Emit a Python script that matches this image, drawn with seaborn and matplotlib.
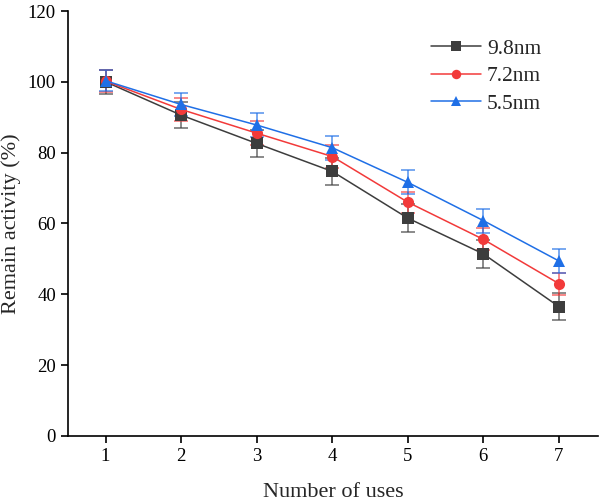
import numpy as np
import pandas as pd
import matplotlib
matplotlib.use("Agg")
import matplotlib.pyplot as plt
import seaborn as sns

uses = [1, 2, 3, 4, 5, 6, 7]
series = ["9.8nm", "7.2nm", "5.5nm"]
act_98 = [100.0, 90.6, 82.6, 74.7, 61.5, 51.4, 36.5]
act_72 = [100.2, 92.2, 85.5, 78.9, 66.0, 55.5, 43.0]
act_55 = [100.3, 93.6, 87.8, 81.4, 71.6, 60.8, 49.4]
err_98 = [3.4, 3.6, 3.8, 3.8, 3.9, 3.9, 3.9]
err_72 = [3.2, 3.3, 3.3, 3.2, 3.0, 3.1, 3.1]
err_55 = [3.0, 3.3, 3.3, 3.4, 3.4, 3.4, 3.3]

colors = ["#3d3d3d", "#f23a3a", "#1f6fe6"]
markers = ["s", "o", "^"]

df = pd.DataFrame({
    "uses": uses * 3,
    "activity": act_98 + act_72 + act_55,
    "err": err_98 + err_72 + err_55,
    "size": sum([[s] * len(uses) for s in series], []),
})

sns.set_style("ticks")
plt.rcParams["font.family"] = ["Liberation Serif", "DejaVu Serif"]

fig = plt.figure(figsize=(6, 5.01), dpi=100)
ax = fig.add_axes([0.113, 0.130, 0.884, 0.848])

# error bars first, behind the markers
for name, c in zip(series, colors):
    sub = df[df["size"] == name]
    ax.errorbar(sub["uses"], sub["activity"], yerr=sub["err"], fmt="none",
                ecolor=c, alpha=0.7, elinewidth=1.2, capsize=5, capthick=1.2, zorder=2)

sns.lineplot(data=df, x="uses", y="activity", hue="size", style="size",
             palette=colors, markers=markers, dashes=False, markersize=8,
             markeredgewidth=0, linewidth=1.1, ax=ax, zorder=3)

ax.set_xlim(0.5, 7.52)
ax.set_ylim(0, 120)
ax.set_xticks(uses)
ax.set_yticks(np.arange(0, 121, 20))
ax.set_xlabel("Number of uses", fontsize=16, labelpad=13)
ax.set_ylabel("Remain activity (%)", fontsize=16, labelpad=5)
ax.tick_params(axis="both", labelsize=13.5, direction="out", length=5, width=1.2, colors="black")
for s in ["left", "bottom"]:
    ax.spines[s].set_linewidth(1.2)
    ax.spines[s].set_color("black")
sns.despine(ax=ax)

leg = ax.legend(title=None, frameon=False, fontsize=15.5, loc="upper left",
                bbox_to_anchor=(0.685, 0.935), borderaxespad=0, borderpad=0,
                handlelength=2.3, handletextpad=0.3, labelspacing=0.35,
                markerscale=0.85)

fig.savefig("out.png", dpi=100)
